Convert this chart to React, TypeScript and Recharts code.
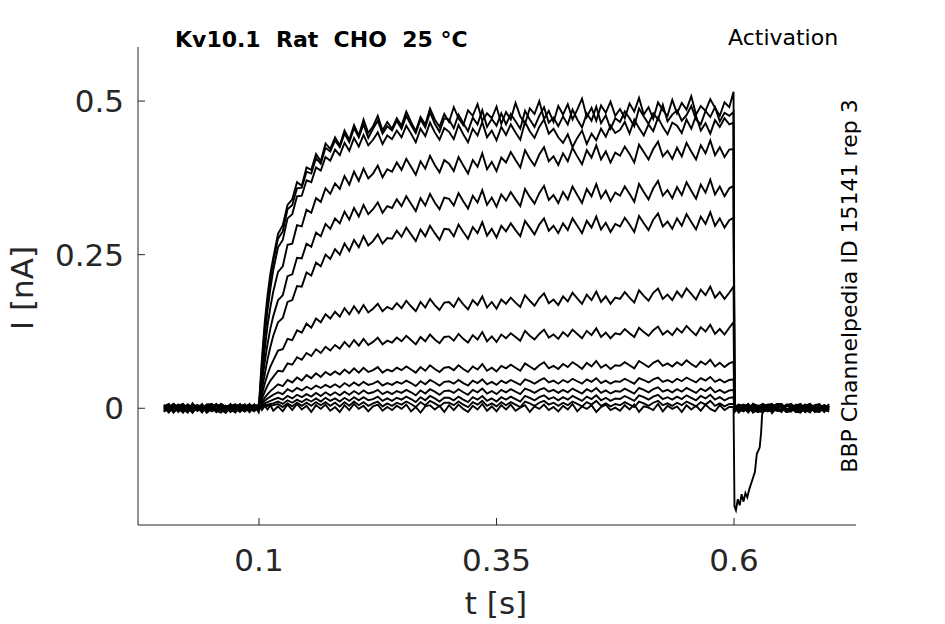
import React from "react";
import { Line, LineChart, XAxis, YAxis } from "recharts";

// time base [s]: baseline (5 ms), step onset, plateau (5 ms), after the step (5 ms)
const T = [
  0, 0.005, 0.01, 0.015, 0.02, 0.025, 0.03, 0.035, 0.04, 0.045,
  0.05, 0.055, 0.06, 0.065, 0.07, 0.075, 0.08, 0.085, 0.09, 0.095, 0.0995,
  0.1005, 0.103, 0.106, 0.109, 0.112, 0.115,
  0.12, 0.125, 0.13, 0.135, 0.14, 0.145, 0.15, 0.155, 0.16, 0.165, 0.17, 0.175,
  0.18, 0.185, 0.19, 0.195, 0.2, 0.205, 0.21, 0.215, 0.22, 0.225, 0.23, 0.235,
  0.24, 0.245, 0.25, 0.255, 0.26, 0.265, 0.27, 0.275, 0.28, 0.285, 0.29, 0.295,
  0.3, 0.305, 0.31, 0.315, 0.32, 0.325, 0.33, 0.335, 0.34, 0.345, 0.35, 0.355,
  0.36, 0.365, 0.37, 0.375, 0.38, 0.385, 0.39, 0.395, 0.4, 0.405, 0.41, 0.415,
  0.42, 0.425, 0.43, 0.435, 0.44, 0.445, 0.45, 0.455, 0.46, 0.465, 0.47, 0.475,
  0.48, 0.485, 0.49, 0.495, 0.5, 0.505, 0.51, 0.515, 0.52, 0.525, 0.53, 0.535,
  0.54, 0.545, 0.55, 0.555, 0.56, 0.565, 0.57, 0.575, 0.58, 0.585, 0.59, 0.595,
  0.5995,
  0.6005, 0.605, 0.61, 0.615, 0.62, 0.625, 0.63, 0.635, 0.64, 0.645,
  0.65, 0.655, 0.66, 0.665, 0.67, 0.675, 0.68, 0.685, 0.69, 0.695, 0.7,
];

// current [pA], one array per voltage step
const TRACE_A = [
  3, -6, 1, 5, -2, -7, 8, -4, 2, -1, 6, -5, 1, -7, 4, 6, -3, 2, -6, 5, 2,
  20, 80, 140, 185, 220, 245,
  284, 298, 331, 340, 368, 362, 392, 388, 414, 402, 431, 422,
  441, 428, 452, 437, 461, 444, 470, 448, 459, 476, 452, 466,
  455, 472, 460, 483, 466, 451, 474, 462, 488, 470, 458, 479,
  466, 490, 472, 461, 485, 476, 495, 468, 480, 472, 491, 463,
  482, 470, 497, 475, 463, 488, 479, 500, 471, 484, 466, 492,
  478, 495, 470, 486, 504, 474, 489, 468, 493, 481, 499, 476,
  487, 472, 496, 483, 505, 478, 490, 471, 498, 485, 476, 502,
  480, 497, 486, 508, 478, 492, 484, 503, 489, 476, 498, 490,
  515,
  4, -5, 2, 7, -3, -6, 2, 5, -8, 1, 5, -2, -1, 6, 6, -4, -4, 3, 1, -5, 1,
];
const TRACE_B = [
  -4, 2, 6, -2, -6, 3, -7, 5, 0, 4, -5, -2, 7, 3, -6, 1, 4, -3, 7, -1, -3,
  15, 70, 130, 175, 210, 240,
  276, 288, 324, 331, 358, 359, 385, 382, 407, 398, 424, 418,
  436, 425, 447, 433, 456, 441, 462, 440, 455, 468, 447, 459,
  452, 468, 455, 476, 461, 448, 470, 457, 482, 463, 450, 472,
  470, 456, 478, 464, 451, 473, 462, 485, 458, 471, 460, 480,
  462, 479, 467, 455, 484, 470, 458, 476, 490, 465, 473, 459,
  475, 462, 486, 470, 457, 480, 468, 491, 464, 477, 455, 472,
  466, 483, 472, 459, 488, 475, 463, 480, 470, 494, 467, 478,
  485, 468, 477, 492, 470, 462, 484, 474, 490, 467, 481, 476,
  482,
  -6, 3, -2, -1, 5, 4, -4, -3, 2, 7, 7, -1, -5, 4, 1, -6, -2, 5, 4, -1, 4,
];
const TRACE_C = [
  5, -1, -5, 4, 7, -6, 2, -2, 7, -4, 3, 5, -3, -7, 2, 6, -5, 3, -2, 5, -5,
  12, 60, 115, 160, 195, 225,
  262, 274, 309, 316, 345, 346, 371, 368, 392, 387, 409, 403,
  421, 412, 432, 419, 440, 426, 445, 428, 437, 449, 430, 444,
  438, 452, 441, 460, 447, 433, 455, 443, 465, 449, 437, 456,
  450, 438, 461, 446, 433, 455, 444, 466, 441, 452, 436, 458,
  445, 462, 449, 437, 466, 451, 440, 458, 470, 447, 455, 441,
  432, 446, 425, 440, 452, 430, 447, 436, 455, 442, 460, 448,
  453, 466, 447, 470, 456, 444, 462, 451, 473, 458, 446, 465,
  460, 448, 470, 455, 476, 452, 464, 447, 469, 458, 472, 462,
  465,
  2, -6, 5, 4, 1, -3, -4, 6, 7, -2, -3, 4, 3, -5, -7, 2, 5, 1, -1, -4, -1,
];
const TRACE_D = [
  -5, 2, 7, 1, -3, 5, -6, 1, 4, -7, -1, 3, 6, -4, 2, -2, 7, -5, 1, -4, 3,
  10, 50, 95, 135, 165, 190,
  222, 231, 266, 268, 298, 296, 323, 318, 342, 336, 358, 349,
  366, 357, 378, 364, 385, 370, 390, 374, 382, 395, 376, 389,
  385, 400, 388, 406, 393, 380, 402, 390, 411, 396, 384, 404,
  398, 386, 409, 395, 382, 404, 393, 415, 389, 401, 386, 408,
  400, 417, 404, 392, 420, 406, 395, 413, 425, 402, 410, 396,
  415, 402, 424, 410, 397, 420, 408, 428, 405, 418, 400, 416,
  411, 426, 414, 400, 429, 417, 405, 422, 434, 410, 419, 406,
  424, 410, 432, 418, 405, 428, 415, 436, 412, 425, 409, 421,
  422,
  -2, 5, 1, -7, 3, 4, 6, -2, -3, 5, 2, -6, -5, 3, 7, -1, -2, 4, 3, -6, 3,
];
const TRACE_E = [
  1, -7, 4, -2, 2, 6, -3, 0, 6, -5, -1, 7, -2, 3, -6, 1, 5, -4, 2, 6, -4,
  8, 40, 75, 105, 130, 150,
  176, 184, 215, 218, 245, 244, 268, 263, 286, 280, 300, 292,
  309, 301, 320, 307, 326, 312, 331, 316, 324, 335, 318, 329,
  326, 340, 329, 345, 333, 321, 342, 330, 349, 335, 324, 343,
  341, 330, 350, 337, 325, 346, 335, 355, 331, 343, 328, 348,
  338, 352, 340, 329, 357, 344, 333, 350, 362, 339, 347, 334,
  352, 340, 361, 347, 334, 357, 345, 365, 342, 354, 337, 351,
  346, 361, 349, 336, 365, 352, 340, 358, 370, 346, 355, 342,
  360, 347, 368, 354, 341, 364, 351, 372, 348, 361, 345, 358,
  362,
  6, -1, -4, 3, -6, 2, 4, -5, -3, 6, 7, -1, -2, 4, 1, -6, 5, 2, 4, -3, -5,
];
const TRACE_F = [
  4, 1, -6, 2, 7, -4, -2, 5, 3, -7, 2, 6, -1, -5, 4, 1, -6, 3, 5, -3, 1,
  6, 30, 55, 80, 100, 118,
  140, 147, 173, 176, 199, 198, 221, 216, 237, 231, 250, 243,
  259, 250, 268, 256, 274, 262, 280, 265, 272, 283, 268, 277,
  276, 289, 279, 294, 283, 272, 291, 280, 297, 285, 274, 292,
  291, 280, 299, 287, 276, 295, 285, 303, 281, 292, 278, 297,
  288, 301, 290, 280, 305, 294, 283, 299, 309, 289, 297, 285,
  301, 290, 309, 297, 285, 305, 294, 312, 291, 302, 287, 300,
  296, 310, 299, 287, 313, 301, 290, 307, 317, 296, 304, 292,
  309, 297, 316, 303, 291, 312, 300, 319, 297, 309, 294, 306,
  310,
  -5, 3, 6, -2, 7, -1, -4, 5, 2, -3, -1, 6, 6, -4, -6, 3, 3, -2, 1, 5, 1,
];
const TRACE_G = [
  -3, 5, -1, 3, -7, 6, 2, -4, -2, 5, 3, -6, 7, 0, -5, 4, 6, -2, -4, 6, -6,
  5, 22, 40, 55, 68, 78,
  94, 96, 113, 111, 127, 123, 138, 131, 146, 140, 153, 146,
  157, 149, 163, 153, 166, 155, 168, 156, 162, 170, 158, 165,
  161, 171, 163, 175, 166, 158, 173, 164, 178, 168, 160, 172,
  173, 165, 179, 169, 161, 176, 168, 182, 164, 173, 162, 177,
  170, 180, 172, 165, 184, 175, 167, 179, 187, 171, 177, 168,
  182, 174, 188, 179, 170, 185, 176, 190, 173, 182, 170, 180,
  178, 189, 180, 172, 192, 183, 175, 188, 195, 178, 185, 176,
  190, 181, 195, 186, 177, 193, 184, 198, 180, 189, 178, 188,
  198,
  3, -7, 1, 2, 5, -4, -3, 3, 6, -1, -5, 4, 1, -6, 4, 2, -2, 5, 7, -3, 7,
];
const TRACE_H = [
  6, -3, 2, -5, 5, 1, -6, 3, 1, -4, -2, 6, 4, -7, 2, 5, -3, -1, 6, -2, 4,
  4, 15, 27, 37, 45, 51,
  61, 60, 73, 71, 83, 79, 90, 85, 96, 90, 100, 94,
  103, 97, 108, 100, 111, 102, 113, 103, 108, 115, 104, 110,
  107, 115, 109, 118, 111, 104, 116, 109, 120, 112, 106, 116,
  117, 110, 121, 113, 107, 119, 112, 124, 109, 117, 108, 120,
  114, 122, 116, 110, 126, 118, 112, 121, 128, 115, 120, 113,
  124, 117, 128, 121, 114, 126, 119, 130, 116, 123, 114, 122,
  120, 129, 122, 116, 131, 124, 118, 127, 133, 120, 126, 119,
  130, 123, 134, 126, 119, 132, 125, 136, 121, 129, 120, 131,
  140,
  -1, 6, 3, -4, 2, -2, 7, 4, -5, 1, 3, -6, -3, 5, 5, -2, 1, -5, -6, 2, -6,
];
const TRACE_I = [
  -5, 3, 1, 6, -2, -5, 7, 2, -4, 3, 5, -6, -3, 4, 2, -7, 4, 6, -1, -5, 4,
  3, 10, 17, 23, 28, 32,
  39, 36, 46, 42, 50, 45, 54, 49, 57, 51, 59, 54,
  60, 55, 63, 57, 65, 58, 66, 59, 62, 67, 58, 63,
  60, 66, 62, 68, 63, 58, 67, 61, 70, 64, 59, 66,
  67, 62, 70, 64, 59, 68, 63, 72, 61, 66, 60, 69,
  65, 71, 66, 61, 73, 68, 63, 70, 75, 65, 69, 64,
  72, 67, 75, 70, 64, 74, 68, 77, 66, 71, 64, 70,
  69, 75, 70, 65, 77, 72, 67, 74, 78, 69, 73, 68,
  75, 70, 78, 72, 67, 76, 71, 79, 68, 74, 67, 73,
  76,
  7, -2, -5, 1, -5, 3, 3, -3, 6, 2, -6, 5, 4, -4, -1, 6, 2, -3, -3, 4, -3,
];
const TRACE_J = [
  2, -5, 7, 1, -6, 3, 3, -2, -1, 6, 5, -4, -7, 2, 6, 1, -4, 5, -6, 3, -2,
  2, 7, 12, 16, 19, 22,
  26, 23, 31, 27, 33, 29, 35, 31, 37, 33, 38, 34,
  39, 34, 41, 36, 42, 37, 43, 38, 40, 44, 37, 41,
  38, 43, 40, 45, 41, 36, 44, 39, 46, 42, 37, 43,
  44, 40, 46, 41, 37, 45, 41, 47, 39, 43, 38, 45,
  41, 46, 42, 38, 47, 44, 40, 45, 49, 42, 45, 40,
  46, 42, 48, 44, 40, 47, 43, 49, 41, 45, 40, 44,
  43, 48, 44, 40, 49, 46, 42, 47, 50, 43, 46, 42,
  48, 44, 50, 46, 42, 49, 45, 51, 43, 47, 42, 46,
  47,
  -3, 2, 4, 6, -7, -2, 1, 5, -4, 3, 5, -4, 2, -6, -6, 3, 7, 1, -2, 5, -2,
];
const TRACE_K = [
  -1, 6, -7, 2, 3, -3, 2, 5, -5, -1, 7, 3, -2, -6, 1, 4, -3, 6, -4, 2, 5,
  2, 5, 8, 10, 12, 14,
  17, 14, 20, 16, 22, 18, 23, 19, 25, 20, 26, 21,
  26, 21, 27, 22, 28, 23, 29, 24, 26, 30, 23, 27,
  23, 28, 25, 30, 26, 21, 29, 24, 31, 27, 22, 28,
  29, 25, 31, 26, 22, 30, 26, 32, 24, 28, 23, 30,
  26, 31, 27, 23, 32, 29, 25, 30, 33, 27, 30, 25,
  30, 26, 32, 28, 24, 31, 27, 33, 25, 29, 24, 28,
  27, 32, 28, 24, 33, 30, 26, 31, 34, 27, 30, 26,
  31, 27, 33, 29, 25, 32, 28, 34, 26, 30, 25, 29,
  30,
  5, -4, 1, 7, -1, 3, -6, -2, 3, 6, 2, -5, -3, 4, 6, -2, -7, 3, 2, -4, 2,
];
const TRACE_L = [
  4, -2, 3, -6, 6, 1, -7, 4, 2, -3, -3, 6, 1, -5, 7, -2, -5, 3, 6, -1, -1,
  1, 3, 5, 6, 7, 8,
  11, 7, 13, 9, 14, 10, 15, 11, 16, 11, 17, 12,
  16, 11, 17, 12, 18, 13, 18, 13, 15, 19, 12, 16,
  12, 17, 14, 19, 15, 10, 18, 13, 20, 16, 11, 17,
  17, 13, 19, 14, 10, 18, 14, 20, 12, 16, 11, 18,
  14, 19, 15, 11, 20, 17, 13, 18, 21, 15, 18, 13,
  18, 14, 20, 16, 12, 19, 15, 21, 13, 17, 12, 16,
  15, 20, 16, 12, 21, 18, 14, 19, 22, 15, 18, 14,
  19, 15, 21, 17, 13, 20, 16, 22, 14, 18, 13, 17,
  18,
  -6, 1, 4, 5, -3, -5, 6, 2, -1, -4, -5, 3, 7, 1, -2, 5, 3, -6, 5, 1, 5,
];
const TRACE_M = [
  -6, 3, -2, 5, 1, -4, 5, 2, -5, 6, 7, -2, -1, 4, -3, -6, 2, 5, -1, 3, 6,
  1, 2, 3, 4, 4, 5,
  7, 2, 8, 3, 9, 4, 9, 4, 10, 5, 10, 4,
  9, 3, 10, 4, 11, 5, 10, 4, 8, 11, 3, 8,
  4, 9, 6, 11, 7, 2, 10, 5, 12, 8, 3, 9,
  9, 5, 11, 6, 2, 10, 6, 12, 4, 8, 3, 10,
  5, 10, 6, 2, 11, 8, 4, 9, 12, 6, 9, 4,
  9, 5, 11, 7, 3, 10, 6, 12, 4, 8, 3, 7,
  5, 10, 6, 2, 11, 8, 4, 9, 12, 5, 8, 4,
  9, 5, 11, 7, 3, 10, 6, 12, 4, 8, 3, 7,
  7,
  2, 6, 1, -3, 7, 4, -6, -2, 1, 5, 4, -4, -5, 2, 2, 6, -1, -3, 4, -2, 4,
];
const TRACE_N = [
  3, 7, -3, 1, -1, -5, 6, 2, -7, 4, 2, -3, 5, 1, -4, 6, -2, -5, 4, 2, -2,
  2, -3, 4, -2, 5, -4,
  3, -5, 6, -3, 7, -2, 4, -6, 5, -1, 6, -4,
  2, -6, 5, -3, 7, -1, 4, -5, 3, 6, -4, 2,
  -3, 4, -1, 6, -5, 2, -7, 3, 5, -2, 4, -6,
  5, -3, 6, -1, -6, 4, -2, 7, -4, 3, -5, 5,
  -2, 6, -4, 1, 5, -6, 3, -1, 6, -3, 2, -5,
  4, -2, 7, -5, 3, -1, 5, -6, 2, 6, -3, 1,
  -4, 5, -2, 6, -6, 3, 1, -3, 7, -5, 4, -1,
  3, -6, 5, -2, 4, -4, 6, -1, -5, 5, -3, 2,
  2,
  -4, 3, -2, 1, 5, -6, -5, 2, 4, -3, -2, 6, 6, -1, -3, 4, 7, -5, -5, 1, 2,
];

const TRACES = [
  TRACE_N, TRACE_M, TRACE_L, TRACE_K, TRACE_J, TRACE_I, TRACE_H,
  TRACE_G, TRACE_F, TRACE_E, TRACE_D, TRACE_C, TRACE_B, TRACE_A,
];

// inward tail right after the step [s], [pA]
const TAIL_T = [
  0.5995, 0.6005, 0.602, 0.604, 0.606, 0.608, 0.61, 0.612, 0.614,
  0.616, 0.619, 0.622, 0.624, 0.627, 0.6285, 0.6295, 0.631,
];
const TAIL_I = [
  2, -160, -166, -148, -158, -140, -152, -138, -145,
  -132, -118, -104, -74, -64, -40, -12, 0,
];

const X_TICKS = [0.1, 0.35, 0.6];
const Y_TICKS = [0, 0.25, 0.5];

// pA -> nA for plotting
const toPoints = (ts: number[], vs: number[]) => ts.map((t, k) => ({ t, i: vs[k] / 1000 }));

const tickStyle = { fontFamily: "DejaVu Sans", fontSize: 31, fill: "#262626" };

export default function App() {
  return (
    <div style={{ position: "relative", width: 930, height: 610, fontFamily: "DejaVu Sans" }}>
      <LineChart width={930} height={610} margin={{ top: 39, right: 82, bottom: 63, left: 70 }}>
        <XAxis
          type="number"
          dataKey="t"
          domain={[-0.0274, 0.7284]}
          allowDataOverflow
          ticks={X_TICKS}
          interval={0}
          tickSize={-7}
          tickMargin={31}
          height={30}
          stroke="#262626"
          tick={tickStyle}
        />
        <YAxis
          type="number"
          domain={[-0.19, 0.588]}
          allowDataOverflow
          ticks={Y_TICKS}
          interval={0}
          tickSize={-7}
          tickMargin={21}
          width={60}
          stroke="#262626"
          tick={tickStyle}
        />
        {TRACES.map((tr, k) => (
          <Line
            key={k}
            data={toPoints(T, tr)}
            dataKey="i"
            type="linear"
            stroke="#000"
            strokeWidth={1.9}
            dot={false}
            activeDot={false}
            isAnimationActive={false}
          />
        ))}
        <Line
          data={toPoints(TAIL_T, TAIL_I)}
          dataKey="i"
          type="linear"
          stroke="#000"
          strokeWidth={1.9}
          dot={false}
          activeDot={false}
          isAnimationActive={false}
        />
      </LineChart>

      <div style={{ position: "absolute", left: 167, top: 32, transform: "translateY(-50%)", fontSize: 22, fontWeight: "bold", whiteSpace: "pre", lineHeight: 1 }}>
        {"Kv10.1  Rat  CHO  25 °C"}
      </div>
      <div style={{ position: "absolute", left: 720, top: 30, transform: "translateY(-50%)", fontSize: 22, whiteSpace: "pre", lineHeight: 1 }}>
        Activation
      </div>
      <div style={{ position: "absolute", left: 842, top: 278, transform: "translate(-50%, -50%) rotate(-90deg)", fontSize: 22, whiteSpace: "pre", lineHeight: 1 }}>
        BBP Channelpedia ID 15141 rep 3
      </div>
      <div style={{ position: "absolute", left: 14, top: 280, transform: "translate(-50%, -50%) rotate(-90deg)", fontSize: 31, color: "#262626", whiteSpace: "pre", lineHeight: 1 }}>
        I [nA]
      </div>
      <div style={{ position: "absolute", left: 488, top: 595, transform: "translate(-50%, -50%)", fontSize: 31, color: "#262626", whiteSpace: "pre", lineHeight: 1 }}>
        t [s]
      </div>
    </div>
  );
}
